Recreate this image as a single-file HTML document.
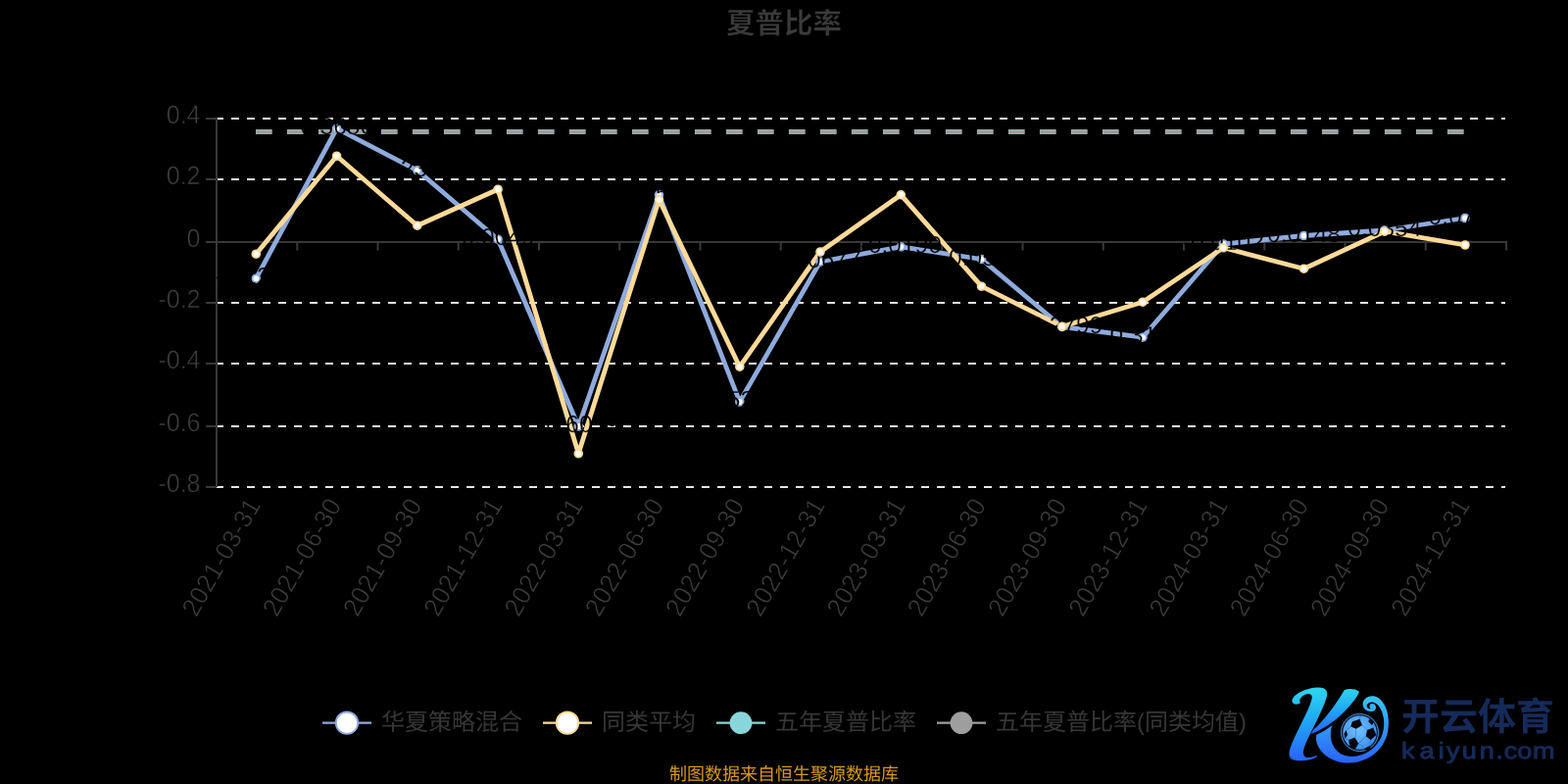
<!DOCTYPE html>
<html><head><meta charset="utf-8"><title>夏普比率</title>
<style>
html,body{margin:0;padding:0;background:#000;}
body{width:1600px;height:800px;overflow:hidden;font-family:"Liberation Sans",sans-serif;}
svg{display:block;will-change:transform}
svg text{text-rendering:geometricPrecision;-webkit-font-smoothing:antialiased}
</style></head><body>
<svg width="1600" height="800" viewBox="0 0 1600 800">
<rect width="1600" height="800" fill="#000"/>
<text x="800" y="34" font-family="'Liberation Sans', 'Noto Sans CJK SC', sans-serif" font-size="29.5" font-weight="bold" fill="#3a3a3a" stroke="#000" stroke-width="0.4" text-anchor="middle">夏普比率</text>
<line x1="220" y1="121.00" x2="1536" y2="121.00" stroke="#e6e6e6" stroke-width="2" stroke-dasharray="8 8"/>
<line x1="220" y1="183.00" x2="1536" y2="183.00" stroke="#e6e6e6" stroke-width="2" stroke-dasharray="8 8"/>
<line x1="220" y1="309.00" x2="1536" y2="309.00" stroke="#e6e6e6" stroke-width="2" stroke-dasharray="8 8"/>
<line x1="220" y1="371.00" x2="1536" y2="371.00" stroke="#e6e6e6" stroke-width="2" stroke-dasharray="8 8"/>
<line x1="220" y1="435.00" x2="1536" y2="435.00" stroke="#e6e6e6" stroke-width="2" stroke-dasharray="8 8"/>
<line x1="220" y1="497.00" x2="1536" y2="497.00" stroke="#e6e6e6" stroke-width="2" stroke-dasharray="8 8"/>
<g stroke="#383838" stroke-width="2" fill="none">
<line x1="221.0" y1="119.6" x2="221.0" y2="497"/>
<line x1="220.0" y1="247.00" x2="1538" y2="247.00"/>
<line x1="210" y1="121.00" x2="221.0" y2="121.00"/>
<line x1="210" y1="183.00" x2="221.0" y2="183.00"/>
<line x1="210" y1="247.00" x2="221.0" y2="247.00"/>
<line x1="210" y1="309.00" x2="221.0" y2="309.00"/>
<line x1="210" y1="371.00" x2="221.0" y2="371.00"/>
<line x1="210" y1="435.00" x2="221.0" y2="435.00"/>
<line x1="210" y1="497.00" x2="221.0" y2="497.00"/>
<line x1="303.25" y1="246.00" x2="303.25" y2="255.50"/>
<line x1="385.50" y1="246.00" x2="385.50" y2="255.50"/>
<line x1="467.75" y1="246.00" x2="467.75" y2="255.50"/>
<line x1="550.00" y1="246.00" x2="550.00" y2="255.50"/>
<line x1="632.25" y1="246.00" x2="632.25" y2="255.50"/>
<line x1="714.50" y1="246.00" x2="714.50" y2="255.50"/>
<line x1="796.75" y1="246.00" x2="796.75" y2="255.50"/>
<line x1="879.00" y1="246.00" x2="879.00" y2="255.50"/>
<line x1="961.25" y1="246.00" x2="961.25" y2="255.50"/>
<line x1="1043.50" y1="246.00" x2="1043.50" y2="255.50"/>
<line x1="1125.75" y1="246.00" x2="1125.75" y2="255.50"/>
<line x1="1208.00" y1="246.00" x2="1208.00" y2="255.50"/>
<line x1="1290.25" y1="246.00" x2="1290.25" y2="255.50"/>
<line x1="1372.50" y1="246.00" x2="1372.50" y2="255.50"/>
<line x1="1454.75" y1="246.00" x2="1454.75" y2="255.50"/>
<line x1="1537.00" y1="246.00" x2="1537.00" y2="255.50"/>
</g>
<g font-family="Liberation Sans, sans-serif" font-size="25" fill="#3d3d3d" text-anchor="end" stroke="#000" stroke-width="0.5">
<text transform="translate(204.5 126.1) scale(1 1.06)">0.4</text>
<text transform="translate(204.5 188.1) scale(1 1.06)">0.2</text>
<text transform="translate(204.5 252.1) scale(1 1.06)">0</text>
<text transform="translate(204.5 314.1) scale(1 1.06)">-0.2</text>
<text transform="translate(204.5 376.1) scale(1 1.06)">-0.4</text>
<text transform="translate(204.5 440.1) scale(1 1.06)">-0.6</text>
<text transform="translate(204.5 502.1) scale(1 1.06)">-0.8</text>
</g>
<g font-family="Liberation Sans, sans-serif" font-size="25" fill="#3d3d3d" text-anchor="end" letter-spacing="0.55" stroke="#000" stroke-width="0.5">
<text transform="translate(259.3 510.5) rotate(-60) scale(1 1.06)" x="0" y="8.4">2021-03-31</text>
<text transform="translate(341.6 510.5) rotate(-60) scale(1 1.06)" x="0" y="8.4">2021-06-30</text>
<text transform="translate(423.8 510.5) rotate(-60) scale(1 1.06)" x="0" y="8.4">2021-09-30</text>
<text transform="translate(506.1 510.5) rotate(-60) scale(1 1.06)" x="0" y="8.4">2021-12-31</text>
<text transform="translate(588.3 510.5) rotate(-60) scale(1 1.06)" x="0" y="8.4">2022-03-31</text>
<text transform="translate(670.5 510.5) rotate(-60) scale(1 1.06)" x="0" y="8.4">2022-06-30</text>
<text transform="translate(752.8 510.5) rotate(-60) scale(1 1.06)" x="0" y="8.4">2022-09-30</text>
<text transform="translate(835.0 510.5) rotate(-60) scale(1 1.06)" x="0" y="8.4">2022-12-31</text>
<text transform="translate(917.3 510.5) rotate(-60) scale(1 1.06)" x="0" y="8.4">2023-03-31</text>
<text transform="translate(999.5 510.5) rotate(-60) scale(1 1.06)" x="0" y="8.4">2023-06-30</text>
<text transform="translate(1081.8 510.5) rotate(-60) scale(1 1.06)" x="0" y="8.4">2023-09-30</text>
<text transform="translate(1164.0 510.5) rotate(-60) scale(1 1.06)" x="0" y="8.4">2023-12-31</text>
<text transform="translate(1246.3 510.5) rotate(-60) scale(1 1.06)" x="0" y="8.4">2024-03-31</text>
<text transform="translate(1328.5 510.5) rotate(-60) scale(1 1.06)" x="0" y="8.4">2024-06-30</text>
<text transform="translate(1410.8 510.5) rotate(-60) scale(1 1.06)" x="0" y="8.4">2024-09-30</text>
<text transform="translate(1493.0 510.5) rotate(-60) scale(1 1.06)" x="0" y="8.4">2024-12-31</text>
</g>
<polyline points="261.3,284.2 343.6,131.2 425.8,173.8 508.1,244.2 590.3,435.0 672.5,198.8 754.8,410.0 837.0,267.0 919.3,251.8 1001.5,264.5 1083.8,333.5 1166.0,344.2 1248.3,249.0 1330.5,240.5 1412.8,235.0 1495.0,222.5" fill="none" stroke="#8faadc" stroke-width="4.8" stroke-linejoin="bevel"/>
<polyline points="261.3,259.2 343.6,159.2 425.8,230.2 508.1,193.2 590.3,462.8 672.5,203.8 754.8,374.2 837.0,257.0 919.3,198.8 1001.5,292.2 1083.8,333.2 1166.0,308.2 1248.3,252.8 1330.5,274.2 1412.8,236.2 1495.0,250.0" fill="none" stroke="#fdda98" stroke-width="4.8" stroke-linejoin="bevel"/>
<line x1="261" y1="134.5" x2="1494.6" y2="134.5" stroke="#88d6da" stroke-width="4.9" stroke-dasharray="16.5 15.5" stroke-dashoffset="0.05"/>
<line x1="261.2" y1="134.5" x2="1494.4" y2="134.5" stroke="#9e9e9e" stroke-width="4.4" stroke-dasharray="16.2 15.8"/>
<circle cx="261.3" cy="284.2" r="3.85" fill="#fff" stroke="#8faadc" stroke-width="1.9"/>
<circle cx="343.6" cy="131.2" r="3.85" fill="#fff" stroke="#8faadc" stroke-width="1.9"/>
<circle cx="425.8" cy="173.8" r="3.85" fill="#fff" stroke="#8faadc" stroke-width="1.9"/>
<circle cx="508.1" cy="244.2" r="3.85" fill="#fff" stroke="#8faadc" stroke-width="1.9"/>
<circle cx="590.3" cy="435.0" r="3.85" fill="#fff" stroke="#8faadc" stroke-width="1.9"/>
<circle cx="672.5" cy="198.8" r="3.85" fill="#fff" stroke="#8faadc" stroke-width="1.9"/>
<circle cx="754.8" cy="410.0" r="3.85" fill="#fff" stroke="#8faadc" stroke-width="1.9"/>
<circle cx="837.0" cy="267.0" r="3.85" fill="#fff" stroke="#8faadc" stroke-width="1.9"/>
<circle cx="919.3" cy="251.8" r="3.85" fill="#fff" stroke="#8faadc" stroke-width="1.9"/>
<circle cx="1001.5" cy="264.5" r="3.85" fill="#fff" stroke="#8faadc" stroke-width="1.9"/>
<circle cx="1083.8" cy="333.5" r="3.85" fill="#fff" stroke="#8faadc" stroke-width="1.9"/>
<circle cx="1166.0" cy="344.2" r="3.85" fill="#fff" stroke="#8faadc" stroke-width="1.9"/>
<circle cx="1248.3" cy="249.0" r="3.85" fill="#fff" stroke="#8faadc" stroke-width="1.9"/>
<circle cx="1330.5" cy="240.5" r="3.85" fill="#fff" stroke="#8faadc" stroke-width="1.9"/>
<circle cx="1412.8" cy="235.0" r="3.85" fill="#fff" stroke="#8faadc" stroke-width="1.9"/>
<circle cx="1495.0" cy="222.5" r="3.85" fill="#fff" stroke="#8faadc" stroke-width="1.9"/>
<mask id="lbl" maskUnits="userSpaceOnUse" x="200" y="100" width="1360" height="420"><g font-family="Liberation Sans, sans-serif" font-size="24.5" fill="#fff" stroke="#000" stroke-width="0.35" text-anchor="middle">
<text x="261.3" y="290.4">-0.1227</text>
<text x="343.6" y="137.4">0.3656</text>
<text x="425.8" y="179.9">0.2300</text>
<text x="508.1" y="250.4">0.0049</text>
<text x="590.3" y="441.2">-0.6039</text>
<text x="672.5" y="204.9">0.1502</text>
<text x="754.8" y="416.2">-0.5241</text>
<text x="837.0" y="273.2">-0.0677</text>
<text x="919.3" y="257.9">-0.0190</text>
<text x="1001.5" y="270.7">-0.0597</text>
<text x="1083.8" y="339.7">-0.2799</text>
<text x="1166.0" y="350.4">-0.3142</text>
<text x="1248.3" y="255.2">-0.0102</text>
<text x="1330.5" y="246.7">0.0148</text>
<text x="1412.8" y="241.2">0.0354</text>
<text x="1495.0" y="228.7">0.0744</text>
</g></mask>
<rect x="200" y="100" width="1360" height="420" fill="#000" mask="url(#lbl)"/>
<circle cx="261.3" cy="259.2" r="3.85" fill="#fff" stroke="#fdda98" stroke-width="1.9"/>
<circle cx="343.6" cy="159.2" r="3.85" fill="#fff" stroke="#fdda98" stroke-width="1.9"/>
<circle cx="425.8" cy="230.2" r="3.85" fill="#fff" stroke="#fdda98" stroke-width="1.9"/>
<circle cx="508.1" cy="193.2" r="3.85" fill="#fff" stroke="#fdda98" stroke-width="1.9"/>
<circle cx="590.3" cy="462.8" r="3.85" fill="#fff" stroke="#fdda98" stroke-width="1.9"/>
<circle cx="672.5" cy="203.8" r="3.85" fill="#fff" stroke="#fdda98" stroke-width="1.9"/>
<circle cx="754.8" cy="374.2" r="3.85" fill="#fff" stroke="#fdda98" stroke-width="1.9"/>
<circle cx="837.0" cy="257.0" r="3.85" fill="#fff" stroke="#fdda98" stroke-width="1.9"/>
<circle cx="919.3" cy="198.8" r="3.85" fill="#fff" stroke="#fdda98" stroke-width="1.9"/>
<circle cx="1001.5" cy="292.2" r="3.85" fill="#fff" stroke="#fdda98" stroke-width="1.9"/>
<circle cx="1083.8" cy="333.2" r="3.85" fill="#fff" stroke="#fdda98" stroke-width="1.9"/>
<circle cx="1166.0" cy="308.2" r="3.85" fill="#fff" stroke="#fdda98" stroke-width="1.9"/>
<circle cx="1248.3" cy="252.8" r="3.85" fill="#fff" stroke="#fdda98" stroke-width="1.9"/>
<circle cx="1330.5" cy="274.2" r="3.85" fill="#fff" stroke="#fdda98" stroke-width="1.9"/>
<circle cx="1412.8" cy="236.2" r="3.85" fill="#fff" stroke="#fdda98" stroke-width="1.9"/>
<circle cx="1495.0" cy="250.0" r="3.85" fill="#fff" stroke="#fdda98" stroke-width="1.9"/>
<line x1="329" y1="737.7" x2="379" y2="737.7" stroke="#8faadc" stroke-width="2.3"/>
<circle cx="354" cy="737.7" r="11.2" fill="#fff" stroke="#8faadc" stroke-width="1.9"/>
<text x="389" y="745" font-family="'Liberation Sans', 'Noto Sans CJK SC', sans-serif" font-size="24" fill="#363636">华夏策略混合</text>
<line x1="554" y1="737.7" x2="604" y2="737.7" stroke="#fdda98" stroke-width="2.3"/>
<circle cx="579" cy="737.7" r="11.2" fill="#fff" stroke="#fdda98" stroke-width="1.9"/>
<text x="614" y="745" font-family="'Liberation Sans', 'Noto Sans CJK SC', sans-serif" font-size="24" fill="#363636">同类平均</text>
<line x1="731" y1="737.7" x2="781" y2="737.7" stroke="#88d6da" stroke-width="2.3"/>
<circle cx="756" cy="737.7" r="11.4" fill="#88d6da"/>
<text x="791" y="745" font-family="'Liberation Sans', 'Noto Sans CJK SC', sans-serif" font-size="24" fill="#363636">五年夏普比率</text>
<line x1="956" y1="737.7" x2="1006" y2="737.7" stroke="#9e9e9e" stroke-width="2.3"/>
<circle cx="981" cy="737.7" r="11.4" fill="#9e9e9e"/>
<text x="1016" y="745" font-family="'Liberation Sans', 'Noto Sans CJK SC', sans-serif" font-size="24" fill="#363636">五年夏普比率(同类均值)</text>
<text x="800" y="796" font-family="'Liberation Sans', 'Noto Sans CJK SC', sans-serif" font-size="18" fill="#d6981f" text-anchor="middle">制图数据来自恒生聚源数据库</text>
<defs><linearGradient id="kg" x1="0" y1="0" x2="0" y2="1"><stop offset="0" stop-color="#2fd6ee"/><stop offset="0.45" stop-color="#1fa8f4"/><stop offset="1" stop-color="#2a62fb"/></linearGradient><linearGradient id="kg2" x1="0" y1="0" x2="0" y2="1"><stop offset="0" stop-color="#38c4f2"/><stop offset="1" stop-color="#2a62fb"/></linearGradient><radialGradient id="bg" cx="0.45" cy="0.4" r="0.65"><stop offset="0" stop-color="#74c2fa"/><stop offset="1" stop-color="#3a8cf0"/></radialGradient></defs>
<g transform="translate(1300 690) scale(0.125)">
<path fill="url(#kg)" d="M215 218C190 240 140 230 148 195C160 140 280 90 370 92C420 94 445 120 430 170C400 280 300 450 255 560C235 610 230 650 262 662C290 668 330 655 350 648L352 655C300 690 200 700 150 680C110 660 120 610 150 540C200 420 290 270 310 180C315 150 290 135 255 150C225 163 200 190 215 218Z"/>
<path fill="url(#kg)" d="M575 112C610 100 660 102 696 125C682 170 640 215 600 262C530 340 420 430 300 472L318 440C400 370 500 240 575 112Z"/>
<path fill="url(#kg2)" d="M345 480C330 560 400 680 560 705C720 725 880 640 925 470C950 360 930 230 850 175C800 145 730 170 725 225C722 270 770 300 810 285C840 272 840 235 810 225C790 220 775 235 782 250C790 240 805 240 810 250C815 265 790 272 770 262C750 250 752 218 795 212C838 208 882 262 894 340C915 470 850 590 720 640C620 675 520 650 480 560C455 500 460 440 475 400C420 440 380 465 345 480Z"/>
<circle cx="800" cy="250" r="19" fill="#35b0f3"/>
<circle cx="700" cy="460" r="152" fill="#07122e" stroke="#55aef6" stroke-width="7"/>
<circle cx="700" cy="460" r="138" fill="url(#bg)"/>
<g fill="none" stroke="#1f5db8" stroke-width="4"><path d="M720 400L765 440M670 430L665 500M625 410L590 440M700 350L705 322M810 420L825 380M790 520L780 570M690 550L745 590M660 600L655 598M620 580L600 600M610 520L580 510M750 490L690 550M835 480L838 480"/></g>
<g fill="#02060f"><path d="M640 370L700 350L720 400L670 430L625 410Z"/><path d="M760 440L810 420L835 480L790 520L750 490Z"/><path d="M610 520L660 500L690 550L660 600L620 580Z"/><path d="M572 470L590 440L600 480L580 510Z"/><path d="M780 345L815 375L800 400L770 370Z"/><path d="M740 590L780 570L790 590L750 610Z"/></g>
</g>
<text x="1430" y="745" font-family="'Liberation Sans', 'Noto Sans CJK SC', sans-serif" font-size="39" font-weight="bold" fill="#162a5a">开云体育</text>
<text font-family="Liberation Sans, sans-serif" font-size="23.5" fill="#162a5a" stroke="#162a5a" stroke-width="0.9" transform="translate(1430 773.7) scale(1.15 1)" x="0.00 16.17 32.87 40.00 53.74 69.39 83.91 91.13 102.87 116.6" y="0">kaiyun.com</text>
</svg>
</body></html>
